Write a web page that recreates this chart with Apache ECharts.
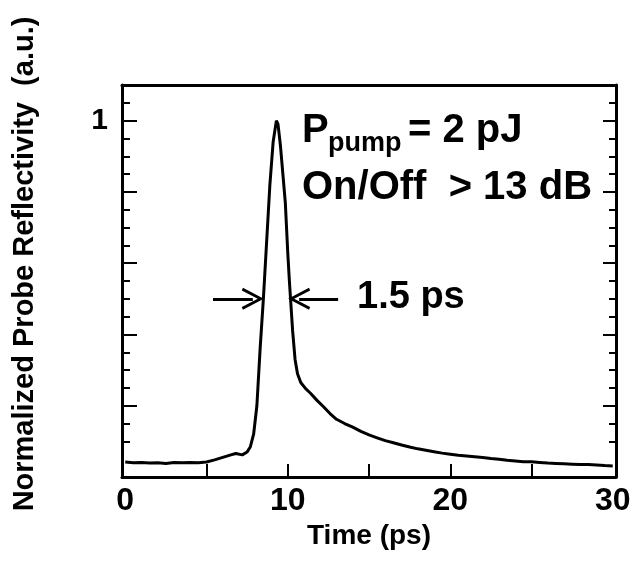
<!DOCTYPE html>
<html>
<head>
<meta charset="utf-8">
<script src="https://cdn.jsdelivr.net/npm/echarts@6/dist/echarts.min.js"></script>
<style>html,body{margin:0;padding:0;background:#fff;}#c{width:635px;height:561px;}</style>
</head>
<body>
<div id="c"></div>
<script>
// ---- data ----
const timePs = [0.0,0.5,1.0,1.5,2.0,2.5,3.0,3.5,4.0,4.5,5.0,5.5,6.0,6.5,6.8,7.2,7.5,7.7,7.9,8.1,8.3,8.5,8.7,8.9,9.1,9.3,9.4,9.55,9.7,9.85,10.0,10.1,10.2,10.3,10.45,10.6,10.8,11.1,11.4,11.8,12.2,12.6,13.0,13.5,14.0,14.5,15.0,15.5,16.0,16.5,17.0,17.5,18.0,18.5,19.0,19.5,20.0,20.5,21.0,21.5,22.0,22.5,23.0,23.5,24.0,24.5,25.0,25.5,26.0,26.5,27.0,27.5,28.0,28.5,29.0,29.5,30.0];
const reflectivity = [0.042,0.040,0.041,0.039,0.040,0.038,0.041,0.040,0.041,0.040,0.042,0.048,0.055,0.062,0.066,0.062,0.070,0.085,0.12,0.20,0.36,0.50,0.66,0.82,0.94,1.00,0.99,0.93,0.85,0.77,0.63,0.55,0.48,0.41,0.33,0.29,0.265,0.248,0.235,0.215,0.197,0.178,0.162,0.150,0.140,0.128,0.118,0.110,0.102,0.096,0.090,0.084,0.079,0.075,0.071,0.067,0.064,0.061,0.059,0.057,0.055,0.052,0.050,0.047,0.045,0.043,0.043,0.041,0.039,0.038,0.037,0.036,0.035,0.035,0.034,0.032,0.031];
const xTickLabels = [0, 10, 20, 30];
const xTicks = [5, 10, 15, 20, 25];
const yTickLabels = [1];
const yMajorTicks = [0.2, 0.4, 0.6, 0.8, 1.0];
const yMinorTicks = [0.1, 0.15, 0.25, 0.3, 0.35, 0.45, 0.5, 0.55, 0.65, 0.7, 0.75, 0.85, 0.9, 0.95, 1.05];
const fwhmLeftArrow = [[5.4, 0.5], [7.85, 0.5]];
const fwhmRightArrow = [[13.1, 0.5], [10.7, 0.5]];

const FONT = '"Liberation Sans", Arial, Helvetica, sans-serif';
const chart = echarts.init(document.getElementById('c'), null, {renderer: 'canvas'});
const data = timePs.map((t, i) => [t, reflectivity[i]]);
const arrowHead = 'path://M10,0 L20,19 L17.5,20 L10,5.5 L2.5,20 L0,19 Z';

function yAx(pos, ticks, len, showLine, labels) {
  return {
    type: 'value', position: pos, min: 0, max: 1.1,
    axisLine: {show: showLine, onZero: false, lineStyle: {color: '#000', width: 3}},
    axisTick: {show: true, inside: true, length: len, customValues: ticks, lineStyle: {color: '#000', width: 2}},
    axisLabel: labels ? {show: true, customValues: labels, fontSize: 30, fontWeight: 'bold', color: '#000', fontFamily: FONT, margin: 14} : {show: false},
    splitLine: {show: false}
  };
}

chart.setOption({
  backgroundColor: '#fff',
  animation: false,
  grid: {left: 122, right: 19, top: 85, bottom: 84},
  xAxis: [{
    type: 'value', position: 'bottom', min: -0.2, max: 30.2,
    axisLine: {show: true, onZero: false, lineStyle: {color: '#000', width: 3}},
    axisTick: {show: true, inside: true, length: 13, customValues: xTicks, lineStyle: {color: '#000', width: 2}},
    axisLabel: {show: true, customValues: xTickLabels, fontSize: 32, fontWeight: 'bold', color: '#000', fontFamily: FONT, margin: 8},
    splitLine: {show: false},
    name: 'Time (ps)', nameLocation: 'middle', nameGap: 39,
    nameTextStyle: {fontSize: 28, fontWeight: 'bold', color: '#000', fontFamily: FONT}
  }, {
    type: 'value', position: 'top', min: -0.2, max: 30.2,
    axisLine: {show: true, onZero: false, lineStyle: {color: '#000', width: 3}},
    axisTick: {show: false}, axisLabel: {show: false}, splitLine: {show: false}
  }],
  yAxis: [
    yAx('left', yMajorTicks, 15, true, yTickLabels),
    yAx('left', yMinorTicks, 8, false, null),
    yAx('right', yMajorTicks, 13, true, null),
    yAx('right', yMinorTicks, 7, false, null)
  ],
  series: [{
    type: 'line', data: data, showSymbol: false, smooth: false,
    lineStyle: {color: '#000', width: 3},
    markLine: {
      silent: true, animation: false,
      lineStyle: {color: '#000', width: 3, type: 'solid'},
      label: {show: false},
      symbol: ['none', arrowHead], symbolSize: [22, 22],
      data: [
        [{coord: fwhmLeftArrow[0]}, {coord: fwhmLeftArrow[1]}],
        [{coord: fwhmRightArrow[0]}, {coord: fwhmRightArrow[1]}]
      ]
    }
  }],
  graphic: [
    {type: 'text', x: 25, y: 264, rotation: Math.PI / 2,
     style: {text: 'Normalized Probe Reflectivity  (a.u.)', font: 'bold 29px ' + FONT, fill: '#000', align: 'center', verticalAlign: 'middle'}},
    {type: 'text', x: 302, y: 131, style: {text: 'P', font: 'bold 40px ' + FONT, fill: '#000', align: 'left', verticalAlign: 'middle'}},
    {type: 'text', x: 328, y: 144, style: {text: 'pump', font: 'bold 27px ' + FONT, fill: '#000', align: 'left', verticalAlign: 'middle'}},
    {type: 'text', x: 408, y: 131, style: {text: '= 2 pJ', font: 'bold 40px ' + FONT, fill: '#000', align: 'left', verticalAlign: 'middle'}},
    {type: 'text', x: 302, y: 188, style: {text: 'On/Off  > 13 dB', font: 'bold 40px ' + FONT, fill: '#000', align: 'left', verticalAlign: 'middle'}},
    {type: 'text', x: 357, y: 298, style: {text: '1.5 ps', font: 'bold 38px ' + FONT, fill: '#000', align: 'left', verticalAlign: 'middle'}}
  ]
});
</script>
</body>
</html>
